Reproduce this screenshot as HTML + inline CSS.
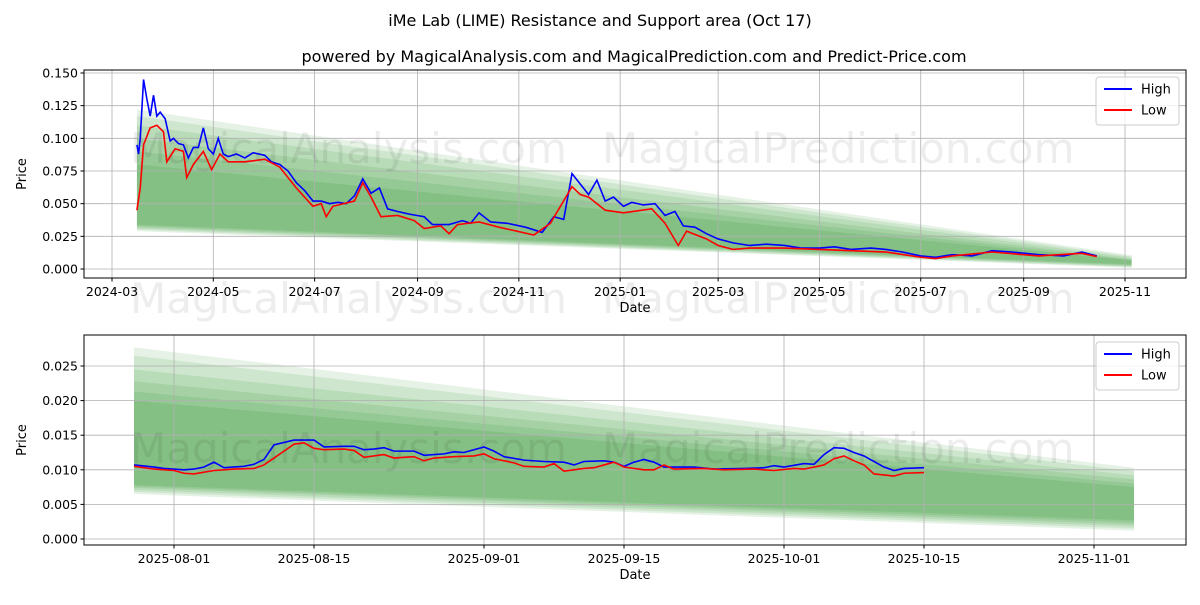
<!DOCTYPE html>
<html><head><meta charset="utf-8"><style>
body{margin:0;background:#fff;font-family:"Liberation Sans","DejaVu Sans",sans-serif}
svg text{font-family:"DejaVu Sans","Liberation Sans",sans-serif}
</style></head><body>
<svg id="c" width="1200" height="600" xmlns="http://www.w3.org/2000/svg"></svg>
<script>
const topHighDates=["2024-03-16","2024-03-17","2024-03-18","2024-03-20","2024-03-22","2024-03-24","2024-03-26","2024-03-28","2024-03-30","2024-04-02","2024-04-05","2024-04-07","2024-04-10","2024-04-13","2024-04-16","2024-04-19","2024-04-22","2024-04-25","2024-04-28","2024-05-01","2024-05-04","2024-05-07","2024-05-10","2024-05-15","2024-05-20","2024-05-25","2024-06-01","2024-06-05","2024-06-10","2024-06-15","2024-06-20","2024-06-25","2024-06-30","2024-07-05","2024-07-10","2024-07-15","2024-07-20","2024-07-25","2024-07-30","2024-08-04","2024-08-09","2024-08-14","2024-08-20","2024-08-27","2024-09-05","2024-09-10","2024-09-20","2024-09-28","2024-10-03","2024-10-08","2024-10-15","2024-10-25","2024-11-05","2024-11-15","2024-11-22","2024-11-28","2024-12-03","2024-12-08","2024-12-13","2024-12-18","2024-12-23","2024-12-28","2025-01-03","2025-01-08","2025-01-15","2025-01-22","2025-01-28","2025-02-03","2025-02-08","2025-02-15","2025-02-22","2025-03-01","2025-03-10","2025-03-20","2025-03-30","2025-04-10","2025-04-20","2025-05-01","2025-05-10","2025-05-20","2025-06-01","2025-06-10","2025-06-20","2025-07-01","2025-07-10","2025-07-20","2025-08-01","2025-08-13","2025-08-25","2025-09-10","2025-09-25","2025-10-06","2025-10-15"];
const topHighValues=[0.095,0.088,0.100,0.145,0.130,0.117,0.133,0.117,0.120,0.115,0.098,0.100,0.096,0.095,0.085,0.093,0.093,0.108,0.092,0.088,0.100,0.088,0.086,0.088,0.085,0.089,0.087,0.082,0.080,0.075,0.066,0.060,0.052,0.052,0.050,0.051,0.050,0.056,0.069,0.058,0.062,0.046,0.044,0.042,0.040,0.034,0.034,0.037,0.035,0.043,0.036,0.035,0.032,0.028,0.040,0.038,0.073,0.065,0.057,0.068,0.052,0.055,0.048,0.051,0.049,0.050,0.041,0.044,0.033,0.032,0.027,0.023,0.020,0.018,0.019,0.018,0.016,0.016,0.017,0.015,0.016,0.015,0.013,0.010,0.009,0.011,0.010,0.014,0.013,0.011,0.010,0.013,0.010];
const topLowDates=["2024-03-16","2024-03-18","2024-03-20","2024-03-24","2024-03-28","2024-04-01","2024-04-03","2024-04-08","2024-04-13","2024-04-15","2024-04-19","2024-04-25","2024-04-30","2024-05-05","2024-05-10","2024-05-20","2024-06-01","2024-06-10","2024-06-20","2024-06-30","2024-07-05","2024-07-08","2024-07-12","2024-07-25","2024-07-30","2024-08-04","2024-08-10","2024-08-20","2024-08-30","2024-09-05","2024-09-15","2024-09-20","2024-09-25","2024-10-08","2024-10-20","2024-11-10","2024-11-20","2024-12-03","2024-12-08","2024-12-13","2024-12-23","2025-01-03","2025-01-20","2025-01-28","2025-02-05","2025-02-10","2025-02-22","2025-03-01","2025-03-10","2025-03-20","2025-04-10","2025-05-01","2025-05-20","2025-06-10","2025-07-01","2025-07-10","2025-07-20","2025-08-13","2025-09-10","2025-10-06","2025-10-15"];
const topLowValues=[0.045,0.062,0.095,0.108,0.110,0.105,0.082,0.092,0.090,0.070,0.080,0.090,0.076,0.088,0.082,0.082,0.084,0.078,0.062,0.048,0.050,0.040,0.048,0.052,0.066,0.055,0.040,0.041,0.037,0.031,0.033,0.027,0.034,0.036,0.032,0.026,0.035,0.063,0.057,0.055,0.045,0.043,0.046,0.035,0.018,0.029,0.023,0.018,0.015,0.016,0.016,0.015,0.014,0.013,0.009,0.008,0.010,0.013,0.010,0.012,0.0095];
const botHighDates=["2025-07-28","2025-07-30","2025-07-31","2025-08-02","2025-08-03","2025-08-04","2025-08-05","2025-08-06","2025-08-08","2025-08-09","2025-08-10","2025-08-11","2025-08-13","2025-08-15","2025-08-16","2025-08-18","2025-08-19","2025-08-20","2025-08-21","2025-08-22","2025-08-23","2025-08-25","2025-08-26","2025-08-28","2025-08-29","2025-08-30","2025-09-01","2025-09-02","2025-09-03","2025-09-05","2025-09-07","2025-09-09","2025-09-10","2025-09-11","2025-09-13","2025-09-14","2025-09-15","2025-09-16","2025-09-17","2025-09-18","2025-09-19","2025-09-22","2025-09-24","2025-09-27","2025-09-29","2025-09-30","2025-10-01","2025-10-03","2025-10-04","2025-10-05","2025-10-06","2025-10-07","2025-10-08","2025-10-09","2025-10-10","2025-10-11","2025-10-12","2025-10-13","2025-10-15"];
const botHighValues=[0.0107,0.0104,0.0102,0.0100,0.0101,0.0104,0.0111,0.0103,0.0105,0.0108,0.0115,0.0136,0.0143,0.0143,0.0133,0.0134,0.0134,0.0129,0.0130,0.0132,0.0127,0.0127,0.0121,0.0123,0.0126,0.0125,0.0133,0.0127,0.0119,0.0114,0.0112,0.0111,0.0107,0.0112,0.0113,0.0111,0.0105,0.0111,0.0115,0.0111,0.0104,0.0104,0.0101,0.0102,0.0103,0.0106,0.0104,0.0109,0.0108,0.0122,0.0132,0.0131,0.0125,0.0120,0.0112,0.0104,0.0099,0.0102,0.0103];
const botLowDates=["2025-07-28","2025-07-30","2025-08-01","2025-08-02","2025-08-03","2025-08-05","2025-08-06","2025-08-07","2025-08-09","2025-08-10","2025-08-11","2025-08-12","2025-08-13","2025-08-14","2025-08-15","2025-08-16","2025-08-18","2025-08-19","2025-08-20","2025-08-22","2025-08-23","2025-08-24","2025-08-25","2025-08-26","2025-08-27","2025-08-29","2025-08-31","2025-09-01","2025-09-02","2025-09-04","2025-09-05","2025-09-07","2025-09-08","2025-09-09","2025-09-11","2025-09-12","2025-09-13","2025-09-14","2025-09-15","2025-09-17","2025-09-18","2025-09-19","2025-09-20","2025-09-23","2025-09-25","2025-09-28","2025-09-30","2025-10-02","2025-10-03","2025-10-04","2025-10-05","2025-10-06","2025-10-07","2025-10-08","2025-10-09","2025-10-10","2025-10-12","2025-10-13","2025-10-15"];
const botLowValues=[0.0105,0.0101,0.0099,0.0095,0.0094,0.0099,0.0100,0.0101,0.0102,0.0107,0.0117,0.0127,0.0137,0.0139,0.0131,0.0129,0.0130,0.0128,0.0118,0.0122,0.0117,0.0118,0.0119,0.0113,0.0117,0.0119,0.0120,0.0123,0.0116,0.0110,0.0105,0.0104,0.0109,0.0098,0.0102,0.0103,0.0107,0.0111,0.0104,0.0100,0.0100,0.0107,0.0101,0.0102,0.0100,0.0101,0.0099,0.0102,0.0101,0.0104,0.0107,0.0116,0.0120,0.0113,0.0107,0.0094,0.0091,0.0095,0.0096];
// bands: [upperStart, upperEnd, lowerStart, lowerEnd]
const topBandStartDate="2024-03-16", topBandEndDate="2025-11-05";
const topBands=[[0.122,0.0105,0.029,0.001],[0.117,0.0095,0.030,0.0015],[0.110,0.0085,0.031,0.002],[0.100,0.0075,0.032,0.0025],[0.090,0.0070,0.033,0.003],[0.080,0.0065,0.034,0.0035]];
const botBandStartDate="2025-07-28", botBandEndDate="2025-11-05";
const botBands=[[0.0277,0.0103,0.0065,0.0012],[0.0265,0.0098,0.0068,0.0015],[0.0245,0.0092,0.0071,0.0018],[0.0228,0.0086,0.0074,0.0021],[0.0213,0.0080,0.0076,0.0024],[0.0200,0.0075,0.0078,0.0027]];
const topYTicks=[0,0.025,0.05,0.075,0.1,0.125,0.15];
const topXTicks=["2024-03-01","2024-05-01","2024-07-01","2024-09-01","2024-11-01","2025-01-01","2025-03-01","2025-05-01","2025-07-01","2025-09-01","2025-11-01"];
const botYTicks=[0,0.005,0.01,0.015,0.02,0.025];
const botXTicks=["2025-08-01","2025-08-15","2025-09-01","2025-09-15","2025-10-01","2025-10-15","2025-11-01"];

const svg=document.getElementById('c');const NS="http://www.w3.org/2000/svg";
function mk(t,a,p){const e=document.createElementNS(NS,t);for(const k in a)e.setAttribute(k,a[k]);(p||svg).appendChild(e);return e;}
const day=s=>Date.parse(s)/864e5;
function panel(cfg){
 const {L,R,T,B,d0,x0,d1,x1,v0,y0,v1,y1,name}=cfg;
 const X=d=>x0+(day(d)-day(d0))*(x1-x0)/(day(d1)-day(d0));
 const Y=v=>y0+(v-v0)*(y1-y0)/(v1-v0);
 const g=mk('g',{});
 cfg.bands.forEach((b,i)=>{const xa=X(cfg.bs),xb=X(cfg.be);
  const p=mk('polygon',{points:`${xa},${Y(b[0])} ${xb},${Y(b[1])} ${xb},${Y(b[3])} ${xa},${Y(b[2])}`,fill:'#008000','fill-opacity':0.1},g);
  });
 cfg.yt.forEach(v=>{const y=Y(v);mk('line',{x1:L,x2:R,y1:y,y2:y,stroke:'#b0b0b0','stroke-width':0.8},g);
  mk('line',{x1:L-3.5,x2:L,y1:y,y2:y,stroke:'#000'},g);
  const t=mk('text',{x:L-6,y:y+4.5,'text-anchor':'end','font-size':12.5},g);t.textContent=v.toFixed(3);
  });
 cfg.xt.forEach(d=>{const x=X(d);mk('line',{x1:x,x2:x,y1:T,y2:B,stroke:'#b0b0b0','stroke-width':0.8},g);
  mk('line',{x1:x,x2:x,y1:B,y2:B+3.5,stroke:'#000'},g);
  const t=mk('text',{x:x,y:B+18,'text-anchor':'middle','font-size':12.5},g);t.textContent=d.slice(0,cfg.fmtLen);
  });
 cfg.wm.forEach(w=>{const t=mk('text',{x:w[0],y:w[1],'font-size':42,fill:'#000','fill-opacity':0.07},g);t.textContent=w[2];
  });
 [[cfg.hd,cfg.hv,'#0000ff','high-line'],[cfg.ld,cfg.lv,'#ff0000','low-line']].forEach(s=>{
  const pts=s[0].map((d,i)=>X(d)+','+Y(s[1][i])).join(' ');
  const pl=mk('polyline',{points:pts,fill:'none',stroke:s[2],'stroke-width':1.6},g);
  });
 mk('rect',{x:L,y:T,width:R-L,height:B-T,fill:'none',stroke:'#000','stroke-width':1},g);
 const xl=mk('text',{x:(L+R)/2,y:B+34,'text-anchor':'middle','font-size':13},g);xl.textContent='Date';
 
 const yl=mk('text',{x:0,y:0,'text-anchor':'middle','font-size':13,transform:`translate(26,${(T+B)/2}) rotate(-90)`},g);yl.textContent='Price';
 
 const lg=mk('g',{},g);
 mk('rect',{x:R-90,y:T+7,width:83,height:48,rx:3,fill:'#fff','fill-opacity':0.8,stroke:'#ccc'},lg);
 [['High','#0000ff'],['Low','#ff0000']].forEach((e,i)=>{const y=T+19+i*21;
  mk('line',{x1:R-82,x2:R-54,y1:y,y2:y,stroke:e[1],'stroke-width':2},lg);
  const t=mk('text',{x:R-45,y:y+4.5,'font-size':13},lg);t.textContent=e[0];
  });
}
let t=mk('text',{x:600,y:26,'text-anchor':'middle','font-size':16});t.textContent='iMe Lab (LIME) Resistance and Support area (Oct 17)';

t=mk('text',{x:634,y:62,'text-anchor':'middle','font-size':16});t.textContent='powered by MagicalAnalysis.com and MagicalPrediction.com and Predict-Price.com';

panel({name:'top-panel',L:84,R:1186,T:70,B:278,d0:"2024-03-01",x0:112,d1:"2025-11-01",x1:1125,v0:0,y0:269,v1:0.15,y1:73,
 bands:topBands,bs:topBandStartDate,be:topBandEndDate,yt:topYTicks,xt:topXTicks,fmtLen:7,
 hd:topHighDates,hv:topHighValues,ld:topLowDates,lv:topLowValues,
 wm:[[130,163,'MagicalAnalysis.com'],[602,163,'MagicalPrediction.com'],[130,313,'MagicalAnalysis.com'],[602,313,'MagicalPrediction.com']]});
panel({name:'bottom-panel',L:84,R:1186,T:335,B:545,d0:"2025-08-01",x0:174,d1:"2025-11-01",x1:1094,v0:0,y0:539,v1:0.025,y1:366,
 bands:botBands,bs:botBandStartDate,be:botBandEndDate,yt:botYTicks,xt:botXTicks,fmtLen:10,
 hd:botHighDates,hv:botHighValues,ld:botLowDates,lv:botLowValues,
 wm:[[130,463,'MagicalAnalysis.com'],[602,463,'MagicalPrediction.com']]});
</script>
</body></html>
